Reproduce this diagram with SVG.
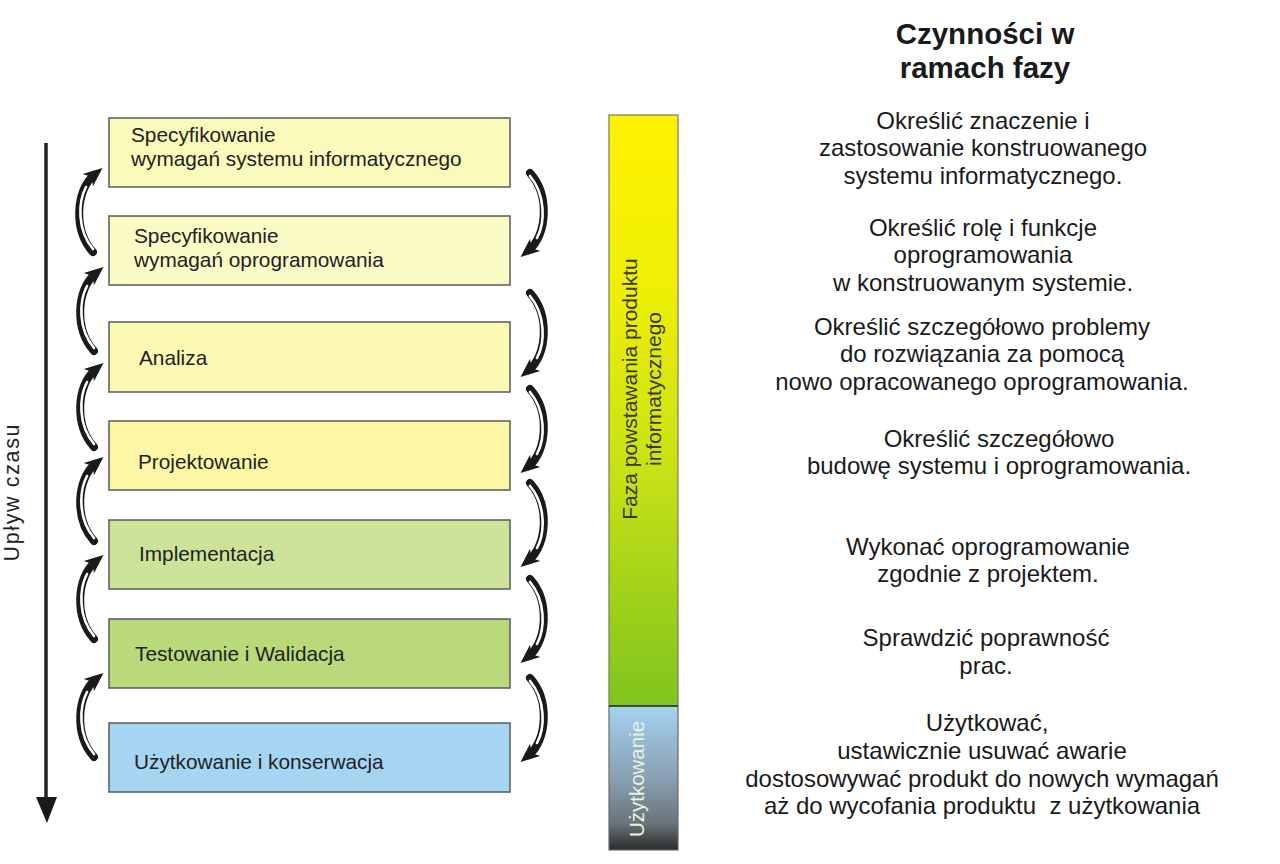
<svg xmlns="http://www.w3.org/2000/svg" xmlns:xlink="http://www.w3.org/1999/xlink" width="1280" height="864" viewBox="0 0 1280 864">
<style>
.box{stroke:#5a5a5a;stroke-width:1.5}
.bt{font-family:"Liberation Sans",Arial,sans-serif;font-size:20.8px;fill:#222}
.rt{font-family:"Liberation Sans",Arial,sans-serif;font-size:24px;fill:#1a1a1a;text-anchor:middle}
.ttl{font-family:"Liberation Sans",Arial,sans-serif;font-size:29.5px;font-weight:bold;fill:#1a1a1a;text-anchor:middle}
.vt{font-family:"Liberation Sans",Arial,sans-serif;font-size:21px;text-anchor:middle}
</style>
<defs>
<linearGradient id="gGreen" x1="0" y1="0" x2="0" y2="1">
<stop offset="0" stop-color="#fff200"/>
<stop offset="0.3" stop-color="#eeef05"/>
<stop offset="0.6" stop-color="#c8e116"/>
<stop offset="1" stop-color="#7fc41e"/>
</linearGradient>
<linearGradient id="gBlue" x1="0" y1="0" x2="0" y2="1">
<stop offset="0" stop-color="#a4d2f0"/>
<stop offset="0.5" stop-color="#8aa0b4"/>
<stop offset="0.82" stop-color="#6a7278"/>
<stop offset="1" stop-color="#2a2a2a"/>
</linearGradient>
<marker id="ah" markerUnits="userSpaceOnUse" markerWidth="20" markerHeight="18" refX="8" refY="9" orient="auto">
<path d="M0,1 L19,9 L0,17 L5,9 z" fill="#1a1a1a"/>
</marker>
<g id="arrL">
<path d="M-8,84 C-28,62 -25,22 -7,7" fill="none" stroke="#1a1a1a" stroke-width="8" stroke-linecap="round" marker-end="url(#ah)"/>
<path d="M-8,81 C-24,62 -23,34 -15,19" fill="none" stroke="#ffffff" stroke-width="2.6" stroke-linecap="round"/>
</g>
</defs>
<rect width="1280" height="864" fill="#ffffff"/>

<g id="timeline">
<line x1="46" y1="143" x2="46" y2="800" stroke="#222" stroke-width="3.5"/>
<polygon points="36,797 57,797 47,823" fill="#1a1a1a"/>
<text class="vt" transform="translate(19,493) rotate(-90)" style="font-size:21.5px;fill:#222" textLength="137" lengthAdjust="spacing">Upływ czasu</text>
</g>

<g id="n1"><rect class="box" x="109" y="118" width="401" height="69" fill="#fafabb"/>
<text class="bt" x="131" y="142">Specyfikowanie</text><text class="bt" x="131" y="166">wymagań systemu informatycznego</text></g>
<g id="n2"><rect class="box" x="109" y="216" width="401" height="69" fill="#fbfbc6"/>
<text class="bt" x="134" y="243">Specyfikowanie</text><text class="bt" x="134" y="267">wymagań oprogramowania</text></g>
<g id="n3"><rect class="box" x="109" y="322" width="401" height="70" fill="#fcf9b4"/>
<text class="bt" x="139" y="365">Analiza</text></g>
<g id="n4"><rect class="box" x="109" y="421" width="401" height="69" fill="#fdf6a4"/>
<text class="bt" x="138" y="469">Projektowanie</text></g>
<g id="n5"><rect class="box" x="109" y="520" width="401" height="69" fill="#cde39a"/>
<text class="bt" x="139" y="561">Implementacja</text></g>
<g id="n6"><rect class="box" x="109" y="619" width="401" height="69" fill="#b9d97a"/>
<text class="bt" x="135" y="661">Testowanie i Walidacja</text></g>
<g id="n7"><rect class="box" x="109" y="723" width="401" height="69" fill="#a6d5f1"/>
<text class="bt" x="134" y="769">Użytkowanie i konserwacja</text></g>

<g id="connectors">
<use xlink:href="#arrL" transform="translate(101,168)"/>
<use xlink:href="#arrL" transform="translate(102,267)"/>
<use xlink:href="#arrL" transform="translate(102,363)"/>
<use xlink:href="#arrL" transform="translate(102,457)"/>
<use xlink:href="#arrL" transform="translate(102,555)"/>
<use xlink:href="#arrL" transform="translate(102,673)"/>
<use xlink:href="#arrL" transform="translate(522,257) rotate(180)"/>
<use xlink:href="#arrL" transform="translate(522,377) rotate(180)"/>
<use xlink:href="#arrL" transform="translate(522,473) rotate(180)"/>
<use xlink:href="#arrL" transform="translate(522,567) rotate(180)"/>
<use xlink:href="#arrL" transform="translate(522,663) rotate(180)"/>
<use xlink:href="#arrL" transform="translate(522,762) rotate(180)"/>
</g>

<g id="phasebar">
<rect x="609" y="115" width="69" height="591" fill="url(#gGreen)" stroke="#7a7a60" stroke-width="1.2"/>
<rect x="609" y="706" width="69" height="144" fill="url(#gBlue)" stroke="#6a6a6a" stroke-width="1.2"/>
<line x1="609" y1="706" x2="678" y2="706" stroke="#2a3a10" stroke-width="1.5"/>
<text class="vt" transform="translate(637,389) rotate(-90)" style="fill:#3a3a20">Faza powstawania produktu</text>
<text class="vt" transform="translate(661,389) rotate(-90)" style="fill:#3a3a20">informatycznego</text>
<text class="vt" transform="translate(644,779) rotate(-90)" style="fill:#e8f2de;font-size:20.5px">Użytkowanie</text>
</g>

<g id="activities">
<text class="ttl" x="985" y="44">Czynności w</text>
<text class="ttl" x="985" y="78">ramach fazy</text>
<text class="rt" x="983" y="129">Określić znaczenie i</text>
<text class="rt" x="983" y="156">zastosowanie konstruowanego</text>
<text class="rt" x="983" y="184">systemu informatycznego.</text>
<text class="rt" x="983" y="236">Określić rolę i funkcje</text>
<text class="rt" x="983" y="263">oprogramowania</text>
<text class="rt" x="983" y="291">w konstruowanym systemie.</text>
<text class="rt" x="982" y="335">Określić szczegółowo problemy</text>
<text class="rt" x="982" y="362">do rozwiązania za pomocą</text>
<text class="rt" x="982" y="390">nowo opracowanego oprogramowania.</text>
<text class="rt" x="999" y="447">Określić szczegółowo</text>
<text class="rt" x="999" y="474">budowę systemu i oprogramowania.</text>
<text class="rt" x="988" y="555">Wykonać oprogramowanie</text>
<text class="rt" x="988" y="582">zgodnie z projektem.</text>
<text class="rt" x="986" y="646">Sprawdzić poprawność</text>
<text class="rt" x="986" y="674">prac.</text>
<text class="rt" x="987" y="731">Użytkować,</text>
<text class="rt" x="982" y="759">ustawicznie usuwać awarie</text>
<text class="rt" x="982" y="787">dostosowywać produkt do nowych wymagań</text>
<text class="rt" x="982" y="814" xml:space="preserve">aż do wycofania produktu  z użytkowania</text>
</g>
</svg>
